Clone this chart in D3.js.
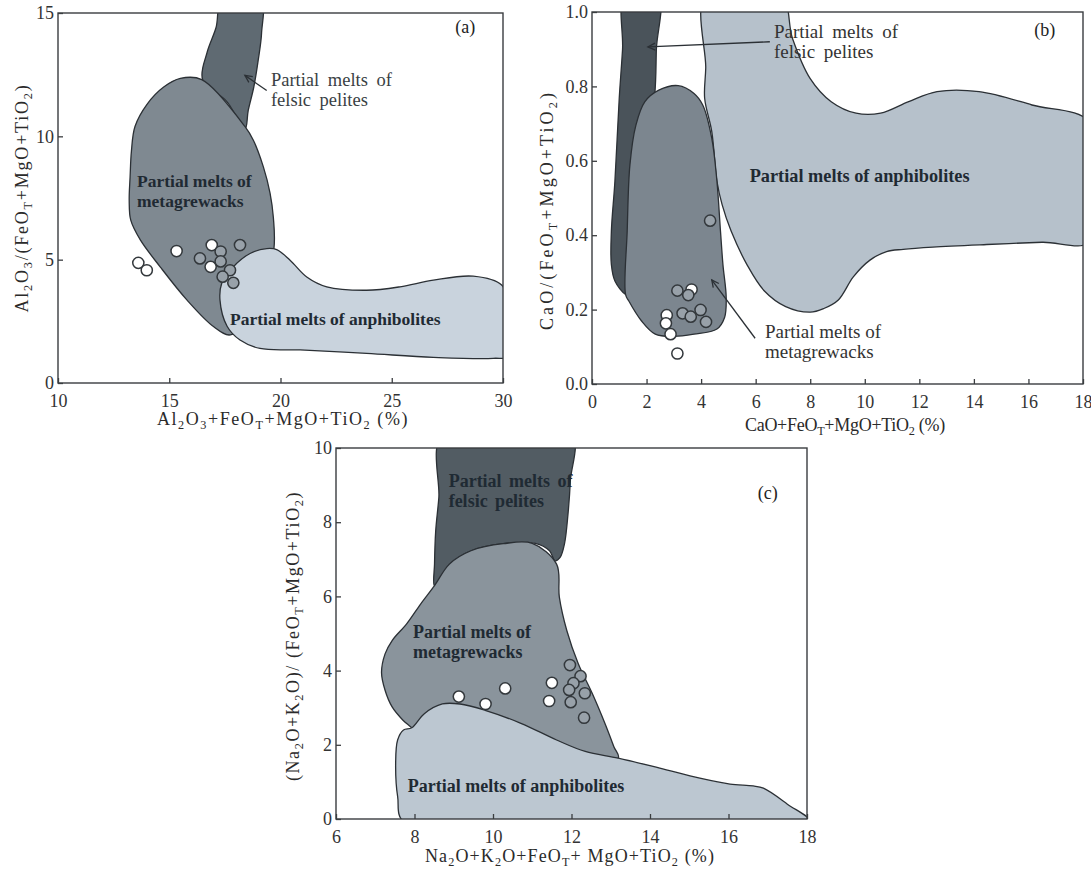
<!DOCTYPE html>
<html>
<head>
<meta charset="utf-8">
<script src="https://cdnjs.cloudflare.com/ajax/libs/d3/7.8.5/d3.min.js"></script>
<style>
  body { margin: 0; background: #fff; }
  svg { display: block; font-family: "Liberation Serif", "Times New Roman", serif; }
</style>
</head>
<body>
<svg id="chart" width="1091" height="869"></svg>
<script>
// ---- data ----
// panel (a): Al2O3+FeOT+MgO+TiO2 vs Al2O3/(FeOT+MgO+TiO2)
var aXTicks = [10, 15, 20, 25, 30];
var aYTicks = [0, 5, 10, 15];
var aFelsic = [[17.4,15.6],[19.1,15.6],[19.15,14.2],[19.0,13.1],[18.8,12.0],[18.55,11.05],[18.4,10.3],[17.6,11.4],[16.5,12.3],[16.7,13.4],[17.1,14.4]];
var aMeta = [[16.46,12.3],[15.5,12.35],[14.75,12.0],[14.0,11.3],[13.46,10.4],[13.3,9.4],[13.24,8.35],[13.2,7.4],[13.27,6.6],[13.7,5.8],[14.6,4.7],[15.8,3.36],[17.0,2.28],[17.75,1.95],[19.0,3.0],[19.7,5.4],[19.68,6.7],[19.53,7.7],[19.23,8.76],[18.78,9.84],[18.4,10.4]];
var aAnph = [[17.28,3.36],[17.36,4.04],[17.88,4.71],[18.63,5.25],[19.38,5.45],[19.83,5.41],[20.43,4.98],[21.18,4.3],[22.08,3.9],[23.87,3.76],[25.37,3.9],[26.87,4.17],[28.66,4.33],[29.94,3.97],[30.3,3.0],[30.3,1.1],[29.56,1.0],[26.87,1.04],[23.87,1.2],[20.88,1.34],[19.08,1.4],[18.18,1.74],[17.6,2.3]];
var aWhite = [[13.61,4.87],[13.99,4.57],[15.33,5.35],[16.91,5.59],[16.86,4.71]];
var aGray = [[16.38,5.05],[17.31,5.33],[17.31,4.93],[17.73,4.57],[17.40,4.31],[17.88,4.06],[18.18,5.59]];

// panel (b): CaO+FeOT+MgO+TiO2 vs CaO/(FeOT+MgO+TiO2)
var bXTicks = [0, 2, 4, 6, 8, 10, 12, 14, 16, 18];
var bYTicks = [0, 0.2, 0.4, 0.6, 0.8, 1.0];
var bFelsic = [[1.22,1.05],[2.42,1.05],[2.36,0.9],[2.3,0.777],[1.94,0.59],[1.42,0.241],[1.23,0.241],[0.84,0.277],[0.71,0.321],[0.71,0.41],[0.84,0.545],[1.0,0.77],[1.12,0.9]];
var bMeta = [[1.23,0.241],[1.29,0.411],[1.39,0.589],[1.61,0.696],[1.94,0.759],[2.45,0.79],[3.16,0.802],[3.74,0.781],[4.06,0.75],[4.39,0.661],[4.58,0.545],[4.71,0.411],[4.8,0.321],[4.92,0.232],[4.86,0.179],[4.58,0.148],[3.74,0.134],[2.97,0.128],[2.32,0.134],[1.81,0.17],[1.35,0.223]];
var bAnph = [[4.19,1.05],[4.17,0.85],[4.13,0.768],[4.39,0.679],[4.58,0.545],[4.77,0.482],[5.1,0.411],[5.68,0.321],[6.32,0.25],[7.1,0.208],[8.0,0.193],[8.5,0.203],[9.03,0.226],[9.58,0.288],[10.19,0.333],[10.8,0.356],[11.41,0.362],[12.5,0.368],[14.47,0.375],[16.5,0.381],[18.3,0.384],[18.3,0.7],[16.13,0.75],[14.19,0.786],[12.65,0.786],[11.61,0.759],[10.58,0.728],[9.68,0.728],[8.77,0.759],[8.0,0.821],[7.35,0.929],[6.9,1.05]];
var bWhite = [[3.65,0.254],[2.74,0.185],[2.71,0.163],[2.88,0.134],[3.13,0.082]];
var bGray = [[4.33,0.439],[3.13,0.251],[3.53,0.239],[3.32,0.19],[3.62,0.181],[3.98,0.199],[4.18,0.167]];

// panel (c): Na2O+K2O+FeOT+MgO+TiO2 vs (Na2O+K2O)/(FeOT+MgO+TiO2)
var cXTicks = [6, 8, 10, 12, 14, 16, 18];
var cYTicks = [0, 2, 4, 6, 8, 10];
var cFelsic = [[8.73,10.4],[11.99,10.4],[11.97,9.11],[11.91,8.21],[11.82,7.41],[11.71,7.05],[11.58,6.96],[11.44,7.23],[11.08,7.43],[10.26,7.42],[9.44,7.23],[8.89,6.87],[8.51,6.29],[8.51,6.87],[8.54,7.76],[8.62,8.66]];
var cMeta = [[8.51,6.29],[8.16,5.8],[7.8,5.26],[7.43,4.81],[7.25,4.45],[7.16,3.95],[7.25,3.47],[7.43,3.02],[7.7,2.67],[7.93,2.46],[8.43,1.95],[10.71,1.5],[13.19,1.64],[13.08,1.95],[12.85,2.58],[12.53,3.38],[12.17,4.19],[11.88,5.08],[11.69,5.98],[11.62,6.87],[11.0,7.43],[10.26,7.42],[9.44,7.23],[8.89,6.87]];
var cAnph = [[7.93,2.46],[8.25,2.84],[8.71,3.1],[9.16,3.1],[9.8,2.93],[10.71,2.58],[11.62,2.13],[12.35,1.82],[13.19,1.64],[14.25,1.37],[15.27,1.1],[16.04,0.94],[16.63,0.89],[16.89,0.83],[17.5,0.4],[18.1,-0.1],[7.75,-0.1],[7.57,0.61],[7.52,1.5],[7.57,2.13],[7.72,2.4]];
var cWhite = [[9.13,3.3],[9.81,3.1],[10.31,3.52],[11.5,3.67],[11.43,3.18]];
var cGray = [[11.96,4.15],[12.23,3.85],[12.05,3.66],[11.94,3.48],[12.34,3.39],[11.98,3.15],[12.32,2.73]];

var svg = d3.select('#chart');

var colFelsic = ['#5f6a72', '#4a535a', '#525c63'];
var colMeta = ['#7f8991', '#7c868f', '#8a949c'];
var colAnph = ['#c9d3dd', '#b6c1cb', '#bcc7d1'];

// text with _X subscripts
function rich(t, s, size) {
  var parts = s.split(/(_[0-9A-Z])/);
  var down = false;
  parts.forEach(function(p) {
    if (!p) return;
    if (p[0] === '_') {
      t.append('tspan').attr('font-size', size * 0.68).attr('dy', down ? 0 : 4).text(p.slice(1));
      down = true;
    } else {
      t.append('tspan').attr('dy', down ? -4 : 0).text(p);
      down = false;
    }
  });
}

// stretch a text to the width it has in the figure
function fit(t, width) {
  var n = t.text().length;
  var w = t.node().getBBox().width;
  t.attr('letter-spacing', ((width - w) / n).toFixed(2));
}

function panel(cfg) {
  var g = svg.append('g');
  var x = d3.scaleLinear().domain(cfg.xd).range(cfg.xr);
  var y = d3.scaleLinear().domain(cfg.yd).range(cfg.yr);
  var id = 'clip-' + cfg.key;
  g.append('clipPath').attr('id', id).append('rect')
    .attr('x', cfg.xr[0]).attr('y', cfg.yr[1])
    .attr('width', cfg.xr[1] - cfg.xr[0]).attr('height', cfg.yr[0] - cfg.yr[1]);

  var line = d3.line()
    .x(function(d) { return x(d[0]); })
    .y(function(d) { return y(d[1]); })
    .curve(d3.curveCatmullRomClosed.alpha(0.5));

  var regions = g.append('g').attr('clip-path', 'url(#' + id + ')');
  cfg.regions.forEach(function(r) {
    regions.append('path').attr('d', line(r.pts))
      .attr('fill', r.fill).attr('stroke', '#2b3035').attr('stroke-width', 1.3)
      .attr('stroke-linejoin', 'round');
  });

  // frame
  g.append('rect')
    .attr('x', cfg.xr[0]).attr('y', cfg.yr[1])
    .attr('width', cfg.xr[1] - cfg.xr[0]).attr('height', cfg.yr[0] - cfg.yr[1])
    .attr('fill', 'none').attr('stroke', '#3a3d40').attr('stroke-width', 1.4);

  var xa = g.append('g').attr('transform', 'translate(0,' + cfg.yr[0] + ')')
    .call(d3.axisBottom(x).tickValues(cfg.xt).tickSize(-5).tickPadding(11).tickFormat(cfg.xf || d3.format('d')));
  var ya = g.append('g').attr('transform', 'translate(' + cfg.xr[0] + ',0)')
    .call(d3.axisLeft(y).tickValues(cfg.yt).tickSize(-5).tickPadding(4).tickFormat(cfg.yf || d3.format('d')));
  [xa, ya].forEach(function(a) {
    a.select('.domain').remove();
    a.selectAll('line').attr('stroke', '#3a3d40').attr('stroke-width', 1.3);
    a.selectAll('text').attr('font-size', 18).attr('fill', '#333')
      .attr('font-family', '"Liberation Serif", serif');
  });

  // samples
  var pts = g.append('g');
  pts.selectAll('circle.w').data(cfg.white).enter().append('circle')
    .attr('cx', function(d) { return x(d[0]); }).attr('cy', function(d) { return y(d[1]); })
    .attr('r', 5.6).attr('fill', '#fff').attr('stroke', '#33383c').attr('stroke-width', 1.5);
  pts.selectAll('circle.g').data(cfg.gray).enter().append('circle')
    .attr('cx', function(d) { return x(d[0]); }).attr('cy', function(d) { return y(d[1]); })
    .attr('r', 5.6).attr('fill', '#98a1a9').attr('stroke', '#33383c').attr('stroke-width', 1.5);

  // region labels
  cfg.labels.forEach(function(l) {
    var t = g.append('text').attr('x', x(l.at[0])).attr('y', y(l.at[1]))
      .attr('font-size', l.size).attr('fill', l.color || '#1f2a33')
      .attr('font-weight', l.bold ? 'bold' : 'normal')
      .attr('word-spacing', l.ws || 0)
      .attr('text-anchor', l.anchor || 'start');
    l.lines.forEach(function(s, i) {
      t.append('tspan').attr('x', x(l.at[0])).attr('dy', i ? 20 : 0).text(s);
    });
  });

  // arrows
  (cfg.arrows || []).forEach(function(a) {
    var x1 = x(a[0][0]), y1 = y(a[0][1]), x2 = x(a[1][0]), y2 = y(a[1][1]);
    g.append('line').attr('x1', x1).attr('y1', y1).attr('x2', x2).attr('y2', y2)
      .attr('stroke', '#2b3035').attr('stroke-width', 1.3);
    var ang = Math.atan2(y1 - y2, x1 - x2);
    var hl = 8, sp = 0.45;
    var p = [[x2 + hl * Math.cos(ang - sp), y2 + hl * Math.sin(ang - sp)], [x2, y2],
             [x2 + hl * Math.cos(ang + sp), y2 + hl * Math.sin(ang + sp)]];
    g.append('path').attr('d', d3.line()(p)).attr('fill', 'none')
      .attr('stroke', '#2b3035').attr('stroke-width', 1.3);
  });

  // panel letter
  g.append('text').attr('x', x(cfg.tag[0])).attr('y', y(cfg.tag[1]))
    .attr('font-size', 18).attr('fill', '#222').attr('text-anchor', 'middle')
    .text(cfg.name);

  // axis titles
  var xt = g.append('text').attr('x', cfg.xTitlePos[0]).attr('y', cfg.xTitlePos[1])
    .attr('font-size', 18).attr('fill', '#2a2a2a').attr('text-anchor', 'middle');
  rich(xt, cfg.xTitle, 18);
  fit(xt, cfg.xTitleW);
  var yt = g.append('text')
    .attr('transform', 'translate(' + cfg.yTitlePos[0] + ',' + cfg.yTitlePos[1] + ') rotate(-90)')
    .attr('font-size', 18).attr('fill', '#2a2a2a').attr('text-anchor', 'middle');
  rich(yt, cfg.yTitle, 18);
  fit(yt, cfg.yTitleW);
}

panel({
  key: 'a', name: '(a)', xd: [10, 30], xr: [58, 503], yd: [0, 15], yr: [383, 13],
  xt: aXTicks, yt: aYTicks,
  regions: [{pts: aFelsic, fill: colFelsic[0]}, {pts: aMeta, fill: colMeta[0]}, {pts: aAnph, fill: colAnph[0]}],
  white: aWhite, gray: aGray,
  labels: [
    {at: [19.57, 12.06], lines: ['Partial melts of', 'felsic pelites'], size: 18.5, ws: 4, color: '#3a3f44'},
    {at: [13.55, 7.94], lines: ['Partial melts of', 'metagrewacks'], size: 17.5, bold: true},
    {at: [17.73, 2.35], lines: ['Partial melts of anphibolites'], size: 17.5, bold: true}
  ],
  arrows: [[[19.38, 11.86], [18.4, 12.47]]],
  tag: [28.3, 14.2],
  xTitle: 'Al_2O_3+FeO_T+MgO+TiO_2 (%)', xTitlePos: [283, 425], xTitleW: 252,
  yTitle: 'Al_2O_3/(FeO_T+MgO+TiO_2)', yTitlePos: [28, 198], yTitleW: 229
});

panel({
  key: 'b', name: '(b)', xd: [0, 18], xr: [592, 1083], yd: [0, 1], yr: [384, 12],
  xt: bXTicks, yt: bYTicks, yf: d3.format('.1f'),
  regions: [{pts: bFelsic, fill: colFelsic[1]}, {pts: bAnph, fill: colAnph[1]}, {pts: bMeta, fill: colMeta[1]}],
  white: bWhite, gray: bGray,
  labels: [
    {at: [6.67, 0.93], lines: ['Partial melts of', 'felsic pelites'], size: 19, ws: 4, color: '#333'},
    {at: [6.34, 0.124], lines: ['Partial melts of', 'metagrewacks'], size: 19, color: '#333'},
    {at: [9.81, 0.543], lines: ['Partial melts of anphibolites'], size: 18.3, bold: true, anchor: 'middle'}
  ],
  arrows: [[[6.52, 0.92], [2.05, 0.906]], [[5.98, 0.123], [4.39, 0.28]]],
  tag: [16.6, 0.935],
  xTitle: 'CaO+FeO_T+MgO+TiO_2 (%)', xTitlePos: [845, 431], xTitleW: 200,
  yTitle: 'CaO/(FeO_T+MgO+TiO_2)', yTitlePos: [553, 210], yTitleW: 240
});

panel({
  key: 'c', name: '(c)', xd: [6, 18], xr: [336, 807], yd: [0, 10], yr: [819, 448],
  xt: cXTicks, yt: cYTicks,
  regions: [{pts: cFelsic, fill: colFelsic[2]}, {pts: cMeta, fill: colMeta[2]}, {pts: cAnph, fill: colAnph[2]}],
  white: cWhite, gray: cGray,
  labels: [
    {at: [8.87, 8.95], lines: ['Partial melts of', 'felsic pelites'], size: 18, bold: true, ws: 3},
    {at: [7.96, 4.88], lines: ['Partial melts of', 'metagrewacks'], size: 18, bold: true},
    {at: [7.83, 0.73], lines: ['Partial melts of anphibolites'], size: 18, bold: true}
  ],
  tag: [17.0, 8.62],
  xTitle: 'Na_2O+K_2O+FeO_T+ MgO+TiO_2 (%)', xTitlePos: [570, 862], xTitleW: 290,
  yTitle: '(Na_2O+K_2O)/ (FeO_T+MgO+TiO_2)', yTitlePos: [299, 636], yTitleW: 290
});
</script>
</body>
</html>
